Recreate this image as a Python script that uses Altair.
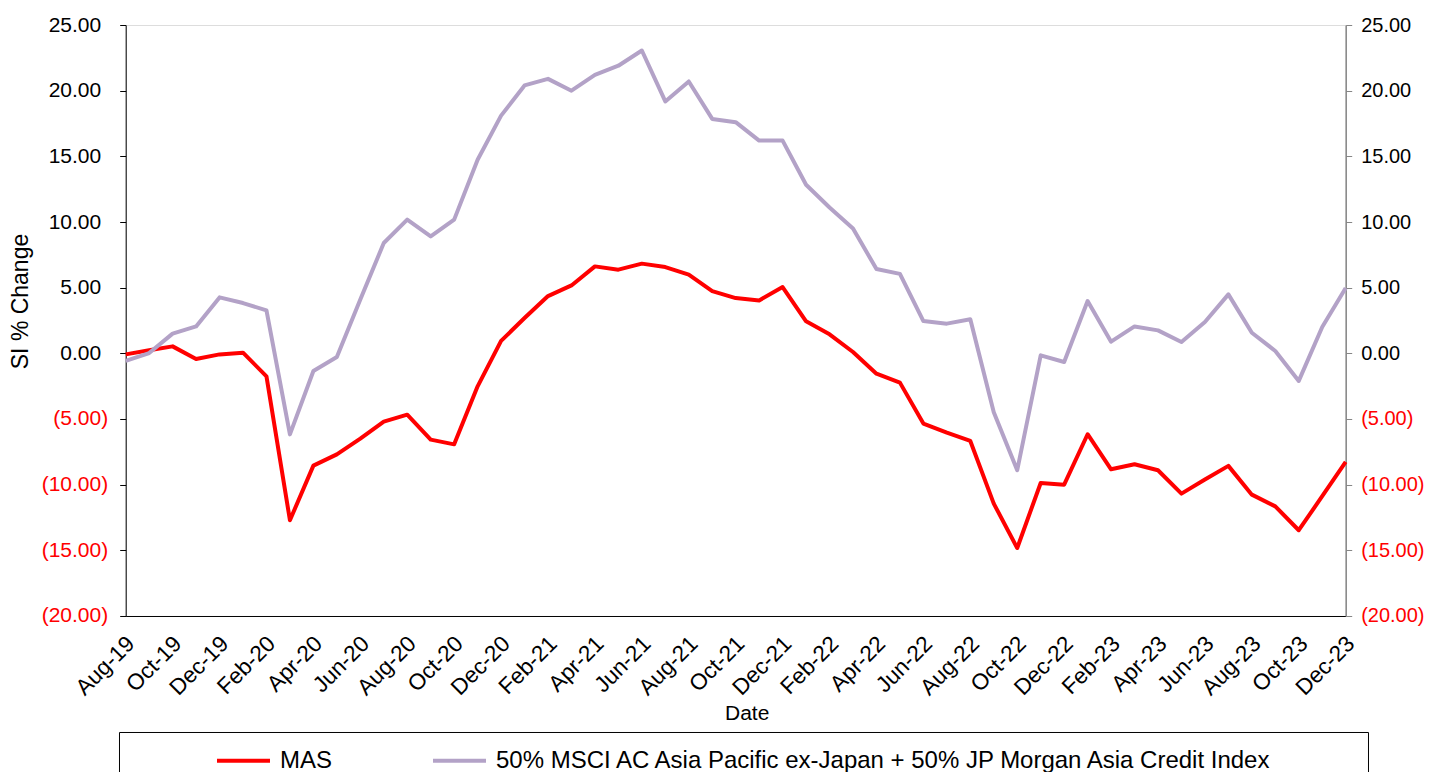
import altair as alt
import pandas as pd

months = list(pd.date_range("2019-08-01", periods=53, freq="MS").strftime("%b-%y"))
tick_labels = months[::2]

series_names = ["MAS", "50% MSCI AC Asia Pacific ex-Japan + 50% JP Morgan Asia Credit Index"]
series_colors = ["#FF0000", "#B3A2C7"]

mas = [-0.08, 0.23, 0.53, -0.43, -0.08,
       0.05, -1.75, -12.71, -8.55, -7.69, -6.50, -5.20, -4.67, -6.57, -6.93, -2.51, 0.95,
       2.69, 4.36, 5.17, 6.62, 6.37, 6.83, 6.57, 5.99, 4.74, 4.21, 4.03, 5.05,
       2.44, 1.45, 0.10, -1.55, -2.23, -5.35, -6.04, -6.67, -11.44, -14.82, -9.87, -10.00,
       -6.16, -8.83, -8.45, -8.90, -10.68, -9.61, -8.57, -10.76, -11.65, -13.47, -10.88, -8.27]

bench = [-0.58, 0.02, 1.50, 2.05, 4.26,
         3.83, 3.27, -6.17, -1.35, -0.28, 4.10, 8.40, 10.18, 8.90, 10.18, 14.74, 18.10,
         20.40, 20.90, 20.00, 21.20, 21.90, 23.06, 19.18, 20.70, 17.85, 17.60, 16.20, 16.20,
         12.84, 11.10, 9.50, 6.42, 6.05, 2.46, 2.26, 2.59, -4.49, -8.90, -0.15, -0.66,
         3.98, 0.89, 2.05, 1.75, 0.86, 2.38, 4.49, 1.57, 0.18, -2.10, 2.00, 4.97]

y_ticks = [-20, -15, -10, -5, 0, 5, 10, 15, 20, 25]

df = pd.DataFrame({
    "Date": months * 2,
    "series": [series_names[0]] * len(mas) + [series_names[1]] * len(bench),
    "value": mas + bench,
    "order": list(range(len(mas))) + list(range(len(bench))),
})

FONT = "Liberation Sans"
label_expr = "datum.value < 0 ? '(' + format(-datum.value, '.2f') + ')' : format(datum.value, '.2f')"
label_color = {"condition": {"test": "datum.value < 0", "value": "#FF0000"}, "value": "#000000"}

x_axis = alt.Axis(values=tick_labels, labelAngle=-45, labelFont=FONT, labelFontSize=22.5,
                  labelColor="black", ticks=False, domainColor="#000000", domainWidth=1,
                  labelPadding=16, labelOffset=-3, title="Date", titleFont=FONT, titleFontSize=21,
                  titleFontWeight="normal", titleColor="black", titleX=621, titleY=104,
                  titleBaseline="alphabetic", titleAlign="center", grid=False, labelOverlap=False)

x_enc = alt.X("Date:N", sort=months, scale=alt.Scale(type="point", padding=0), axis=x_axis)

# trailing non-breaking spaces widen the legend box; the zero-width space keeps them from being trimmed
pad_tail = "\u00a0" * 14 + "\u200b"
legend = alt.Legend(orient="none", legendX=-6.7, legendY=707, direction="horizontal",
                    title="\u00a0", titleOrient="left", titlePadding=96, titleFontSize=24,
                    padding=0, strokeColor="#000000", symbolType="stroke", symbolSize=2809,
                    symbolStrokeWidth=4, labelFont=FONT, labelFontSize=24, labelColor="black",
                    columnPadding=92, labelOffset=8, labelLimit=2000,
                    labelExpr="datum.label == 'MAS' ? datum.label : datum.label + '" + pad_tail + "'")

color_enc = alt.Color("series:N", scale=alt.Scale(domain=series_names, range=series_colors),
                      legend=legend)


def y_axis(orient, color):
    if orient == "left":
        pad = {"condition": {"test": "datum.value < 0", "value": 12}, "value": 19}
        fs = 21
    else:
        pad = 9
        fs = 20
    return alt.Axis(orient=orient, values=y_ticks, labelExpr=label_expr, labelColor=label_color,
                    labelFont=FONT, labelFontSize=fs, tickSize=6, tickColor=color,
                    domainColor=color, domainWidth=1.5 if orient == "right" else 1,
                    labelPadding=pad, grid=False,
                    title="SI % Change" if orient == "left" else None,
                    titleFont=FONT, titleFontSize=23, titleFontWeight="normal", titleColor="black",
                    titleX=-98, titleY=276, titleAngle=270, titleBaseline="alphabetic",
                    titleAlign="center")


ysc = alt.Scale(domain=[-20, 25], nice=False, zero=False)

base = alt.Chart(df)

red = base.transform_filter(alt.datum.series == series_names[0]).mark_line(
    strokeWidth=4, strokeJoin="round").encode(
    x=x_enc,
    y=alt.Y("value:Q", scale=ysc, axis=y_axis("left", "#000000")),
    color=color_enc,
    order="order:Q",
)

purple = base.transform_filter(alt.datum.series == series_names[1]).mark_line(
    strokeWidth=4, strokeJoin="round").encode(
    x=x_enc,
    y=alt.Y("value:Q", scale=ysc, axis=y_axis("right", "#868686")),
    color=color_enc,
    order="order:Q",
)

chart = alt.layer(red, purple).resolve_scale(y="independent").properties(
    width=1220, height=591,
    padding={"left": 117.7, "top": 17, "right": 78, "bottom": 156},
    autosize=alt.AutoSizeParams(type="none"),
).configure_view(stroke=None, strokeWidth=0).configure(background="white")

chart.save("out.html", embed_options={"renderer": "svg", "actions": False})
